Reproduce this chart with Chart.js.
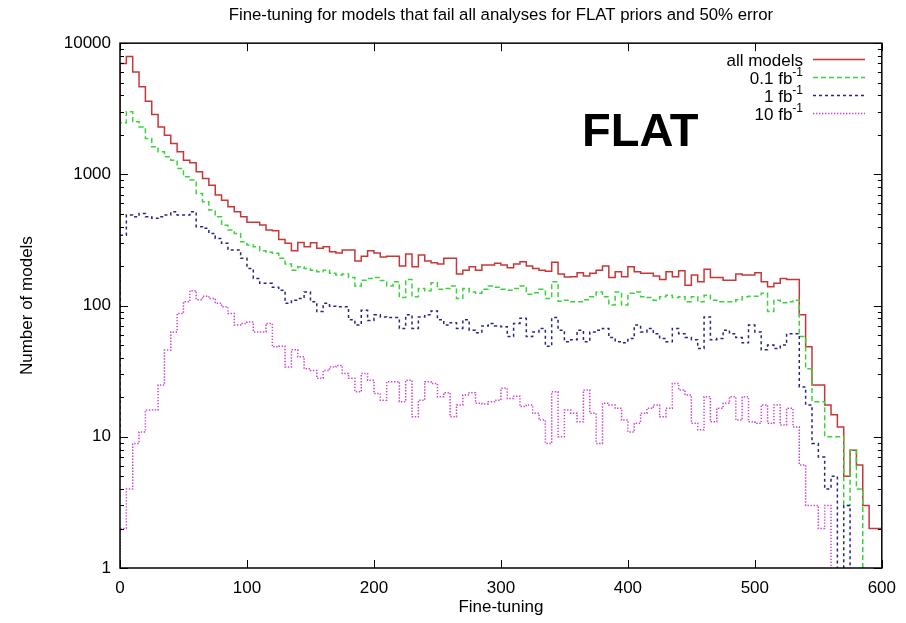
<!DOCTYPE html>
<html><head><meta charset="utf-8">
<script src="https://cdn.jsdelivr.net/npm/chart.js@4.4.0/dist/chart.umd.min.js"></script>
<style>html,body{margin:0;padding:0;background:#fff;}#wrap{width:906px;height:623px;}</style>
</head><body><div id="wrap"><canvas id="c" width="906" height="623"></canvas></div>
<script>
// ---------- data (counts per 5-unit fine-tuning bin, starting at 0) ----------
const BIN_WIDTH = 5;
const allModels = [150,7000,7900,6040,4650,3615,2865,2300,1990,1720,1486,1284,1225,1045,930,828,695,636,566,518,
 475,431,431,411,376,372,319,298,262,303,281,301,273,281,257,252,265,265,219,238,
 262,252,235,238,238,200,247,198,243,219,212,207,229,229,174,186,198,186,204,204,
 210,204,194,207,216,200,192,186,183,214,174,165,166,178,168,176,186,200,164,181,
 166,198,181,176,176,168,158,181,166,184,143,171,152,189,164,164,156,156,174,171,
 171,178,152,139,148,161,158,158,85,48.5,24.8,24.8,17.5,14.7,11.9,5,7.9,6.1,3,2];
const fb01 = [70,2470,3000,2515,2300,1880,1622,1486,1361,1284,1110,958,904,716,618,534,475,410,376,355,
 306,289,281,262,255,250,229,207,186,198,192,186,181,186,176,171,174,164,141,156,
 161,164,155,141,152,115,158,117,135,130,149,133,135,141,113,135,127,124,133,141,
 138,133,131,135,141,122,125,133,113,152,108,110,107,107,111,117,127,117,101,127,
 101,124,127,117,115,110,117,120,115,117,107,117,107,120,110,107,107,107,111,117,
 118,118,124,90,110,105,107,110,58,33,18.5,18.5,10,10,10,3,7.9,4,0,0];
const fb1 = [7,344,490,475,504,475,462,475,490,518,490,490,518,399,388,355,325,298,265,265,
 229,192,161,148,148,138,131,104,110,113,127,107,90,104,99,98,98,78,71,92,
 77,85,82,81,81,67,85,67,82,85,91,78,71,74,67,78,65,62,70,73,
 70,69,58,73,80,58,63,67,49,81,65,53,55,65,53,63,65,67,57,53,
 52,56,71,63,67,61,56,53,67,61,57,55,47,82,55,56,65,61,57,52,
 71,63,46,50,47,50,61,61,24,17.5,8.9,7,4,5,0,3,0,0,0,0];
const fb10 = [0,2,4,8.9,10.9,16,16,24.8,45.8,63,87,107,130,111,118,113,104,98,87,71,
 73,75,63,63,73,48.5,49,34,46,40.7,33,32,27.9,32,34,35,30.4,27.9,22,30.4,
 27,21.4,19,26.3,26.3,18.5,27,14.2,19,26.3,25.5,20.2,21.7,14.2,17.5,20.8,21.7,18,17.8,18.5,
 19,23.4,19.6,20.4,17,17.5,15.1,13.4,8.9,22,10,16,15.1,13,22.7,15.1,8.9,18,17.5,16.5,
 13.4,10.9,12.7,15.1,16.5,17.5,14.2,16.5,25.5,22.7,20.8,12.7,11.3,20.2,13,16.5,18,20.2,13.4,20.2,
 13,12.7,17.5,12.7,17.5,12.3,16.5,11.9,6.1,3,3,2,3,0,0,0,0,0,0,0];
const xTicks = [0,100,200,300,400,500,600];
const xTickLabels = ['0','100','200','300','400','500','600'];
const yTicks = [1,10,100,1000,10000];
const yTickLabels = ['1','10','100','1000','10000'];
const seriesNames = ['all models','0.1 fb','1 fb','10 fb'];
const seriesSup = ['','-1','-1','-1'];
const titleText = 'Fine-tuning for models that fail all analyses for FLAT priors and 50% error';
const xTitle = 'Fine-tuning';
const yTitle = 'Number of models';
const tagText = 'FLAT';

// ---------- styles ----------
const FONT = "'Liberation Sans', Arial, Helvetica, sans-serif";
const colors = ['#c83737','#3cd23c','#262682','#cc44cc'];
const dashes = [[], [5,3], [3,3], [1.4,1.6]];

Chart.defaults.font.family = FONT;
Chart.defaults.color = '#000';

function toSteps(vals){
  // zero counts go below the log axis (clipped at the bottom)
  const pts = vals.map((v,i)=>({x:i*BIN_WIDTH, y: v>0 ? v : 0.1}));
  pts.push({x: vals.length*BIN_WIDTH, y: pts[pts.length-1].y});
  return pts;
}
const seriesVals = [allModels, fb01, fb1, fb10];

const framePlugin = {
  id:'frame',
  afterDatasetsDraw(chart){
    const {ctx, chartArea:{left,right,top,bottom}, scales:{x,y}} = chart;
    ctx.save();
    ctx.strokeStyle = '#000';
    ctx.lineWidth = 1.5;
    ctx.strokeRect(left, top, right-left, bottom-top);
    ctx.lineWidth = 1;
    const seg=(x1,y1,x2,y2)=>{ctx.beginPath();ctx.moveTo(x1,y1);ctx.lineTo(x2,y2);ctx.stroke();};
    xTicks.forEach(v=>{const px=Math.round(x.getPixelForValue(v))+0.5; seg(px,bottom,px,bottom-8); seg(px,top,px,top+8);});
    yTicks.forEach((d,i)=>{
      const py=Math.round(y.getPixelForValue(d))+0.5;
      seg(left,py,left+8,py); seg(right,py,right-8,py);
      if(i<yTicks.length-1){
        for(let m=2;m<=9;m++){
          const pm=Math.round(y.getPixelForValue(m*d))+0.5;
          seg(left,pm,left+4,pm); seg(right,pm,right-4,pm);
        }
      }
    });
    ctx.restore();
  },
  afterDraw(chart){
    const ctx = chart.ctx;
    ctx.save();
    // legend
    const textRight = 803, lineX1 = 813, lineX2 = 865;
    const baselines = [66,84,102,120];
    seriesNames.forEach((name,i)=>{
      const b = baselines[i];
      ctx.fillStyle = '#000';
      ctx.textBaseline = 'alphabetic';
      ctx.font = '12px ' + FONT;
      const supW = seriesSup[i] ? ctx.measureText(seriesSup[i]).width : 0;
      if (seriesSup[i]) { ctx.textAlign='right'; ctx.fillText(seriesSup[i], textRight, b-8); }
      ctx.font = '17px ' + FONT;
      ctx.textAlign = 'right';
      ctx.fillText(name, textRight - supW, b);
      ctx.strokeStyle = colors[i];
      ctx.lineWidth = 1.5;
      ctx.setLineDash(dashes[i]);
      ctx.beginPath(); ctx.moveTo(lineX1, b-6.5); ctx.lineTo(lineX2, b-6.5); ctx.stroke();
      ctx.setLineDash([]);
    });
    // big tag
    ctx.font = 'bold 47px ' + FONT;
    ctx.textAlign = 'left';
    ctx.fillStyle = '#000';
    ctx.fillText(tagText, 582, 146);
    ctx.restore();
  }
};

new Chart(document.getElementById('c'), {
  type:'line',
  data:{
    datasets: seriesVals.map((vals,i)=>({
      label: seriesNames[i] + (seriesSup[i] ? ' ' + seriesSup[i] : ''),
      data: toSteps(vals),
      borderColor: colors[i],
      borderWidth: 1.5,
      borderDash: dashes[i],
      stepped: 'after',
      pointRadius: 0,
      fill: false,
      order: 4 - i
    }))
  },
  options:{
    responsive:false,
    animation:false,
    layout:{padding:{left:0,right:21,top:0,bottom:0}},
    plugins:{
      legend:{display:false},
      tooltip:{enabled:false},
      title:{display:true, fullSize:false, text:titleText, color:'#000',
        font:{family:FONT, size:16.8, weight:'normal'}, padding:{top:5,bottom:18}}
    },
    scales:{
      x:{
        type:'linear', min:0, max:600,
        afterBuildTicks:(s)=>{ s.ticks = xTicks.map(v=>({value:v})); },
        afterFit:(s)=>{ s.height = 55; },
        grid:{display:false, drawTicks:false},
        border:{display:false},
        ticks:{color:'#000', font:{size:17}, padding:10, maxRotation:0, autoSkip:false,
          callback:(v)=>xTickLabels[xTicks.indexOf(v)]},
        title:{display:true, text:xTitle, color:'#000', font:{size:17}, padding:{top:0,bottom:5}}
      },
      y:{
        type:'logarithmic', min:1, max:10000,
        afterBuildTicks:(s)=>{ s.ticks = yTicks.map(v=>({value:v})); },
        afterFit:(s)=>{ s.width = 120; },
        grid:{display:false, drawTicks:false},
        border:{display:false},
        ticks:{color:'#000', font:{size:17}, padding:9, autoSkip:false,
          callback:(v)=>{ const k=yTicks.indexOf(v); return k>=0 ? yTickLabels[k] : ''; }},
        title:{display:true, text:yTitle, color:'#000', font:{size:17}, padding:{top:17,bottom:0}}
      }
    }
  },
  plugins:[framePlugin]
});
</script>
</body></html>
